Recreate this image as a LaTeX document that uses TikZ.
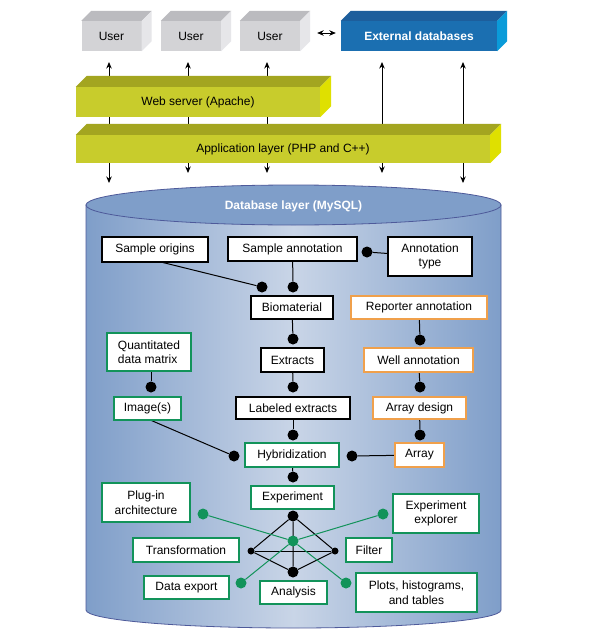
\documentclass[tikz,border=0pt]{standalone}
\usepackage{fontspec}
\setmainfont{Liberation Sans}
\usetikzlibrary{arrows,arrows.meta,backgrounds,positioning,calc}

\definecolor{usrfront}{HTML}{D3D3D6}
\definecolor{usrtop}{HTML}{BBBBBF}
\definecolor{usrside}{HTML}{E6E6E9}
\definecolor{extfront}{HTML}{1B6FB1}
\definecolor{exttop}{HTML}{1D5E9C}
\definecolor{extside}{HTML}{0A9BD9}
\definecolor{yelfront}{HTML}{C8CC2C}
\definecolor{yeltop}{HTML}{A3A520}
\definecolor{yelside}{HTML}{DFE000}
\definecolor{cyl}{HTML}{7F9EC9}
\definecolor{cylmid}{HTML}{C9D5E7}
\definecolor{cylline}{HTML}{4E5A9A}
\definecolor{grn}{HTML}{12935A}
\definecolor{org}{HTML}{F0A04B}

% top and right faces of a block node: name, depth, top colour, side colour
\newcommand\faces[4]{%
  \fill[#3] (#1.north west) -- ++(#2,-#2) -- ($(#1.north east)+(#2,-#2)$) -- (#1.north east) -- cycle;
  \fill[#4] (#1.north east) -- ++(#2,-#2) -- ($(#1.south east)+(#2,-#2)$) -- (#1.south east) -- cycle;}

\begin{document}
\begin{tikzpicture}
[x=1pt, y=-1pt, >={Stealth[length=6.5pt,width=5.5pt]},
every node/.style={font=\fontsize{12}{14.5}\selectfont},
block/.style={inner sep=0pt, minimum height=30pt},
entity/.style={draw, fill=white, line width=1.1pt, inner sep=0pt, align=center},
gentity/.style={entity, draw=grn},
oentity/.style={entity, draw=org},
erdot/.style={circle, fill=black, inner sep=0pt, minimum size=11pt},
serdot/.style={erdot, minimum size=7pt},
gerdot/.style={erdot, fill=grn},
link/.style={draw, line width=1pt},
glink/.style={link, draw=grn},
flow/.style={draw, line width=0.9pt}]
\useasboundingbox (0,0) rectangle (600,637);

% users and external databases
\node[block, fill=usrfront, minimum width=60pt] (u1) at (111.5,36) {User};
\node[block, fill=usrfront, minimum width=60pt] (u2) at (191,36) {User};
\node[block, fill=usrfront, minimum width=60pt] (u3) at (270,36) {User};
\node[block, fill=extfront, minimum width=156pt, text=white,
  font=\fontsize{12}{14.5}\selectfont\bfseries] (ext) at (419,36) {External databases};
\faces{u1}{10}{usrtop}{usrside}
\faces{u2}{10}{usrtop}{usrside}
\faces{u3}{10}{usrtop}{usrside}
\faces{ext}{10}{exttop}{extside}

% server layers
\node[block, fill=yelfront, minimum width=244pt] (web) at (198,102) {Web server (Apache)};
\node[block, fill=yelfront, minimum width=414pt, minimum height=28pt] (app) at (283,149) {Application layer (PHP and C++)};
\faces{web}{11}{yeltop}{yelside}
\faces{app}{11}{yeltop}{yelside}

\coordinate (t1) at (109,62);
\coordinate (t2) at (188,62);
\coordinate (t3) at (267,62);
\coordinate (t4) at (382,62);
\coordinate (t5) at (463,62);
\coordinate (b1) at (109,183);
\coordinate (b2) at (188,173);
\coordinate (b3) at (267,173);
\coordinate (b4) at (382,173);
\coordinate (b5) at (463,183);

% database layer
\node[text=white, font=\fontsize{12}{14.5}\selectfont\bfseries] (db) at (293.5,206) {Database layer (MySQL)};

\node[entity, minimum width=106pt, minimum height=25pt] (so) at (155,249.5) {Sample origins};
\node[entity, minimum width=129pt, minimum height=24pt] (sa) at (292.5,249) {Sample annotation};
\node[entity, minimum width=84pt, minimum height=39pt] (at) at (430,256.5) {Annotation\\type};
\node[entity, minimum width=82pt, minimum height=23pt] (bio) at (292,307.5) {Biomaterial};
\node[oentity, minimum width=136pt, minimum height=23pt] (ra) at (419,307.5) {Reporter annotation};
\node[oentity, minimum width=109pt, minimum height=24pt] (wa) at (418.5,360) {Well annotation};
\node[entity, minimum width=63pt, minimum height=24pt] (ex) at (292.5,360) {Extracts};
\node[gentity, minimum width=84pt, minimum height=38pt, align=left] (qdm) at (149,352) {Quantitated\\data matrix};
\node[gentity, minimum width=67pt, minimum height=23pt] (img) at (147.5,408.5) {Image(s)};
\node[entity, minimum width=114pt, minimum height=22pt] (le) at (293,408) {Labeled extracts};
\node[oentity, minimum width=93pt, minimum height=22pt] (ad) at (419.5,408) {Array design};
\node[gentity, minimum width=94pt, minimum height=24pt] (hyb) at (292,455) {Hybridization};
\node[oentity, minimum width=49pt, minimum height=24pt] (arr) at (419.5,455) {Array};
\node[gentity, minimum width=83pt, minimum height=23pt] (exp) at (292.5,497.5) {Experiment};
\node[gentity, minimum width=88pt, minimum height=39pt] (plug) at (146,502.5) {Plug-in\\architecture};
\node[gentity, minimum width=86pt, minimum height=39pt] (expl) at (436,513.5) {Experiment\\explorer};
\node[gentity, minimum width=106pt, minimum height=24pt] (tr) at (186,550) {Transformation};
\node[gentity, minimum width=46pt, minimum height=24pt] (fil) at (369,550) {Filter};
\node[gentity, minimum width=85pt, minimum height=23pt] (de) at (186.5,587.5) {Data export};
\node[gentity, minimum width=67pt, minimum height=23pt] (an) at (293.5,592.5) {Analysis};
\node[gentity, minimum width=121pt, minimum height=39pt] (pht) at (416.5,592.5) {Plots, histograms,\\and tables};

% relation ends
\node[erdot] (d1) at (367,252) {};
\node[erdot] (d2) at (262,287) {};
\node[erdot] (d3) at (293,287) {};
\node[erdot] (d4) at (293,339) {};
\node[erdot] (d5) at (420,340) {};
\node[erdot] (d6) at (151,387) {};
\node[erdot] (d7) at (293,387) {};
\node[erdot] (d8) at (420,387) {};
\node[erdot] (d9) at (293,435) {};
\node[erdot] (d10) at (420,435) {};
\node[erdot] (d11) at (234,456) {};
\node[erdot] (d12) at (352,456) {};
\node[erdot] (d13) at (293,477) {};
\node[erdot] (top) at (293,516) {};
\node[serdot] (left) at (251,551) {};
\node[serdot] (right) at (335,551) {};
\node[erdot] (bot) at (293,572) {};
\node[gerdot] (hub) at (293,541) {};
\node[gerdot] (g1) at (203,514) {};
\node[gerdot] (g2) at (383,514) {};
\node[gerdot] (g3) at (241,583) {};
\node[gerdot] (g4) at (346,583) {};

\begin{scope}[on background layer]
\fill[white] (0,0) rectangle (600,637);
\shadedraw[left color=cyl, right color=cyl, middle color=cylmid, draw=cylline, line width=0.8pt]
  (86,205) -- (86,610) arc[start angle=180, end angle=0, x radius=207.5, y radius=18] -- (501,205) -- cycle;
\draw[fill=cyl, draw=cylline, line width=0.8pt] (293.5,205) ellipse[x radius=207.5, y radius=20];

\draw[flow, ->] (app.north -| t1) -- (t1);
\draw[flow, ->] (app.north -| t2) -- (t2);
\draw[flow, ->] (app.north -| t3) -- (t3);
\draw[flow, ->] (app.north -| t4) -- (t4);
\draw[flow, ->] (app.north -| t5) -- (t5);
\draw[flow, ->] (app.south -| b1) -- (b1);
\draw[flow, ->] (app.south -| b2) -- (b2);
\draw[flow, ->] (app.south -| b3) -- (b3);
\draw[flow, ->] (app.south -| b4) -- (b4);
\draw[flow, ->] (app.south -| b5) -- (b5);
\draw[flow, <->] ([xshift=17pt,yshift=3pt]u3.east) -- ([xshift=-5pt,yshift=3pt]ext.west);

\path[link] (at) -- (d1);
\path[link] ([xshift=8pt]so.south) -- (d2);
\path[link] (sa) -- (d3);
\path[link] (bio) -- (d4);
\path[link] (ra) -- (d5);
\path[link] (qdm.south -| d6) -- (d6);
\path[link] (ex) -- (d7);
\path[link] (wa) -- (d8);
\path[link] (le) -- (d9);
\path[link] (ad) -- (d10);
\path[link] ([xshift=4pt]img.south) -- (d11);
\path[link] (arr) -- (d12);
\path[link] (hyb) -- (d13);
\path[link] (top) -- (left) -- (bot) -- (right) -- (top) -- (bot);
\path[link] (left) -- (right);
\path[glink] (g1) -- (hub);
\path[glink] (g2) -- (hub);
\path[glink] (g3) -- (hub);
\path[glink] (g4) -- (hub);
\end{scope}
\end{tikzpicture}
\end{document}
